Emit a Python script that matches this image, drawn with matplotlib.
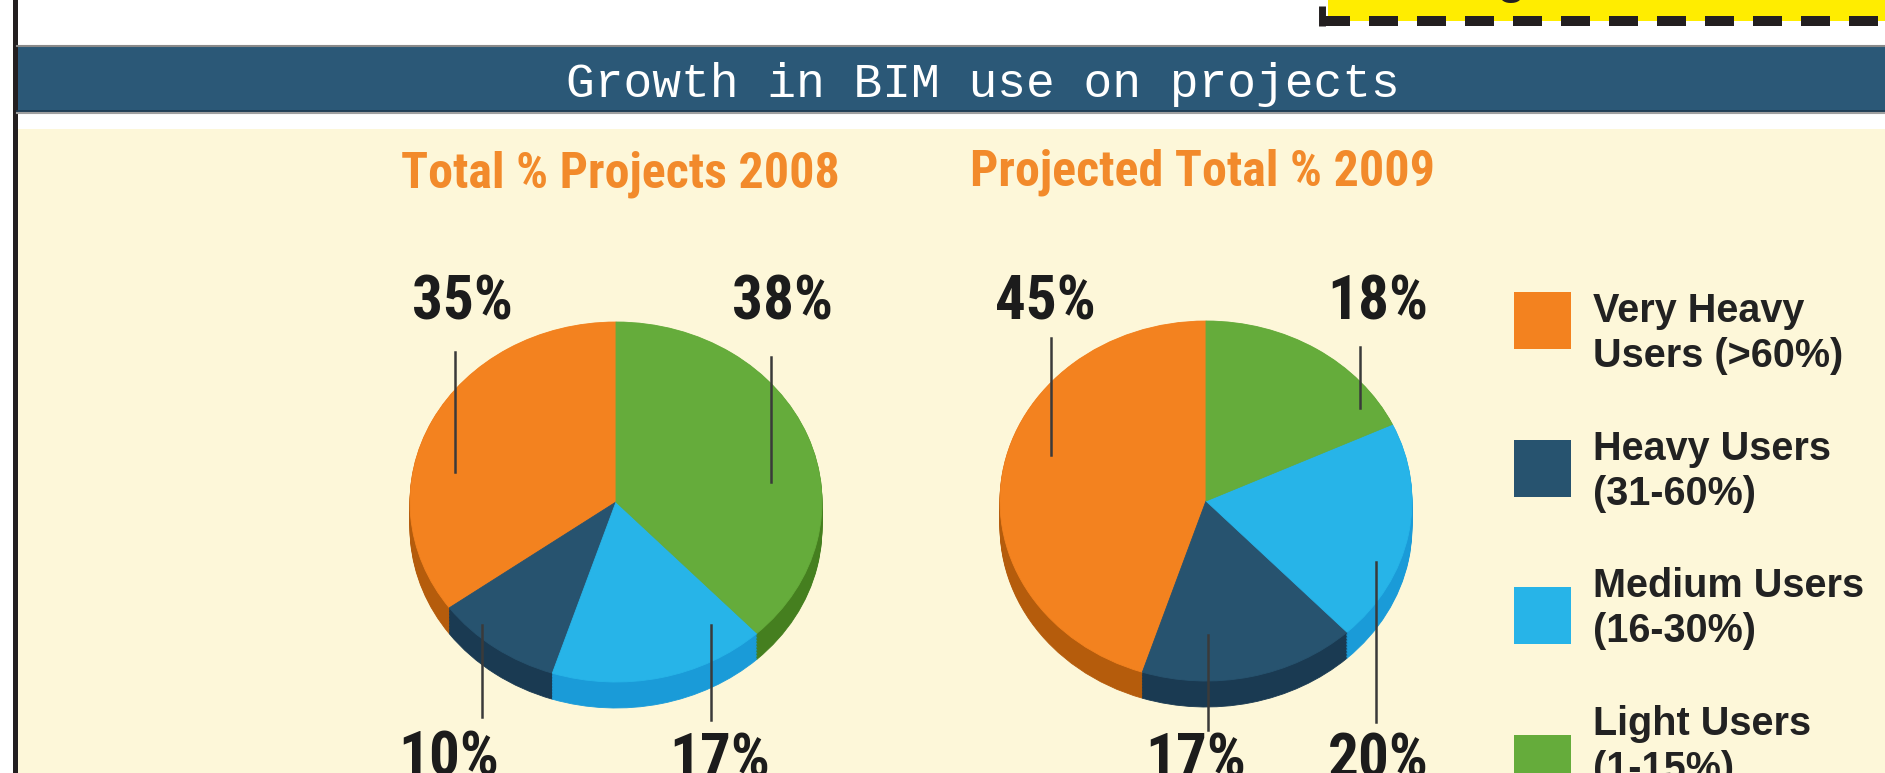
import numpy as np
import matplotlib
matplotlib.use("Agg")
import matplotlib.pyplot as plt
from matplotlib.patches import Rectangle
from matplotlib import font_manager as fm

# ---- data ----
chart_title = "Growth in BIM use on projects"
pie_titles = ["Total % Projects 2008", "Projected Total % 2009"]
user_groups = ["Very Heavy Users (>60%)", "Heavy Users (31-60%)",
               "Medium Users (16-30%)", "Light Users (1-15%)"]
legend_lines = [("Very Heavy", "Users (>60%)"), ("Heavy Users", "(31-60%)"),
                ("Medium Users", "(16-30%)"), ("Light Users", "(1-15%)")]
share_2008 = [35, 10, 17, 38]
share_2009 = [45, 17, 20, 18]

top_colors = ["#f3821f", "#27536f", "#27b4e8", "#65ac3b"]
side_colors = ["#b55c0c", "#1a3a52", "#1a9bd8", "#457f1f"]

W, H = 1885, 773
cream = "#fdf7d9"
band = "#2b5877"
ink = "#231f20"

names = {f.name for f in fm.fontManager.ttflist}
narrow = None
for n in ["Liberation Sans Narrow", "Roboto Condensed", "Open Sans Condensed"]:
    if n in names:
        narrow = n
        break
if narrow is None:
    narrow = "Liberation Sans"
    shrink = 0.82
else:
    shrink = 1.0

fig = plt.figure(figsize=(W / 100, H / 100), dpi=100, facecolor="white")

# background in pixel coords
bg = fig.add_axes([0, 0, 1, 1])
bg.set_xlim(0, W)
bg.set_ylim(H, 0)
bg.axis("off")

bg.add_patch(Rectangle((17, 129), W - 17, H - 129, color=cream, lw=0))
bg.add_patch(Rectangle((17, 46), W - 17, 66, color=band, lw=0))
bg.plot([17, W], [46, 46], color="#8a8a8a", lw=1.5)
bg.plot([17, W], [111, 111], color="#1f3b50", lw=1.2)
bg.plot([17, W], [113, 113], color="#a0a0a0", lw=1.5)
bg.add_patch(Rectangle((12.5, 0), 5, H, color=ink, lw=0))

# yellow box peeking in at the top
bg.add_patch(Rectangle((1328, 0), W - 1328, 21, color="#ffed00", lw=0))
bg.text(1511, -9, "g", fontsize=40, ha="center", va="baseline",
        color=ink, family="Liberation Sans")
bg.plot([1321, W], [21, 21], color=ink, lw=7.2, dashes=(2.9, 1.9),
        solid_capstyle="butt", dash_capstyle="butt")
bg.plot([1322, 1322], [26, 6], color=ink, lw=5, solid_capstyle="butt")

bg.text(983, 97, chart_title, ha="center", va="baseline", color="white",
        fontsize=34.5, family="Liberation Mono")

# pie titles
title_x = [620, 1203]
title_base = [188, 185]
for t, x, y in zip(pie_titles, title_x, title_base):
    bg.text(x, y, t, ha="center", va="baseline", color="#f28a2b",
            fontsize=36 * shrink, fontweight="bold", family=narrow)

# legend
for i, (c, (l1, l2)) in enumerate(zip(top_colors, legend_lines)):
    sq_top = 292 + i * 147.7
    bg.add_patch(Rectangle((1514, sq_top), 57, 57, color=c, lw=0))
    base = 322 + i * 137.7
    bg.text(1593, base, l1, ha="left", va="baseline", color="#222222",
            fontsize=28.5, fontweight="bold", family="Liberation Sans")
    bg.text(1593, base + 45, l2, ha="left", va="baseline", color="#222222",
            fontsize=28.5, fontweight="bold", family="Liberation Sans")


def draw_pie(cx, cy, values):
    rx, ry, depth = 206, 180, 26
    x0, x1, y0, y1 = -1.1, 1.1, -1.35, 1.1
    left, right = cx + x0 * rx, cx + x1 * rx
    top, bottom = cy - y1 * ry, cy - y0 * ry
    ax = fig.add_axes([left / W, 1 - bottom / H, (right - left) / W, (bottom - top) / H])
    # extruded side: stack of darker copies shifted down
    for off in np.linspace(depth / ry, 0.004, 18):
        wedges, _ = ax.pie(values, colors=side_colors, startangle=90, center=(0, -off))
        for w in wedges:
            w.set_edgecolor(w.get_facecolor())
            w.set_linewidth(0.6)
    wedges, _ = ax.pie(values, colors=top_colors, startangle=90)
    for w in wedges:
        w.set_edgecolor(w.get_facecolor())
        w.set_linewidth(0.6)
    ax.set_aspect("auto")
    ax.set_xlim(x0, x1)
    ax.set_ylim(y0, y1)
    ax.axis("off")
    ax.patch.set_visible(False)
    return ax


draw_pie(616, 502, share_2008)
draw_pie(1206, 501, share_2009)

# labels and leader lines (pixel layout, slice order as in data)
over = fig.add_axes([0, 0, 1, 1], zorder=5)
over.set_xlim(0, W)
over.set_ylim(H, 0)
over.axis("off")
over.patch.set_visible(False)

label_layout = [
    # label x, label baseline, line x, line y0, line y1
    [(462, 320, 455, 352, 472), (449, 776, 482, 625, 717),
     (720, 778, 711, 625, 720), (782, 320, 771, 357, 482)],
    [(1045, 320, 1051, 338, 455), (1196, 777, 1208, 635, 730),
     (1378, 778, 1376, 562, 722), (1378, 320, 1360, 347, 408)],
]
for values, layout in zip([share_2008, share_2009], label_layout):
    for v, (lx, ly, px, py0, py1) in zip(values, layout):
        over.plot([px, px], [py0, py1], color="#3a3a3a", lw=1.8)
        over.text(lx, ly, f"{v}%", ha="center", va="baseline", color="#1c1c1c",
                  fontsize=44 * shrink, fontweight="bold", family=narrow)

fig.savefig("out.png", dpi=100, facecolor="white")
